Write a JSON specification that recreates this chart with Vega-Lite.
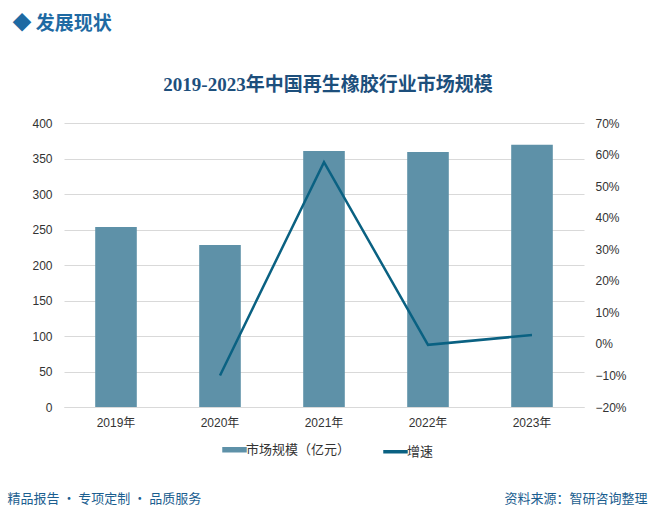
{
  "$schema": "https://vega.github.io/schema/vega-lite/v6.json",
  "width": 520,
  "height": 284,
  "autosize": {"type": "none"},
  "padding": {"left": 64, "top": 123, "right": 76, "bottom": 103},
  "background": "white",
  "title": {
    "text": "2019-2023年中国再生橡胶行业市场规模",
    "anchor": "middle",
    "offset": -81,
    "dx": 4,
    "font": "Liberation Serif, Noto Sans CJK SC",
    "fontSize": 19,
    "fontWeight": "bold",
    "color": "#1d4f7c"
  },
  "data": {
    "values": [
      {"year": "2019年", "size": 253.5, "growth": null},
      {"year": "2020年", "size": 228.2, "growth": -0.100},
      {"year": "2021年", "size": 360.5, "growth": 0.576},
      {"year": "2022年", "size": 359.3, "growth": -0.003},
      {"year": "2023年", "size": 369.4, "growth": 0.028}
    ]
  },
  "layer": [
    {
      "mark": {"type": "bar"},
      "encoding": {
        "x": {
          "field": "year",
          "type": "nominal",
          "sort": null,
          "scale": {"paddingInner": 0.6, "paddingOuter": 0.3},
          "axis": {
            "title": "精品报告 · 专项定制 · 品质服务",
            "titleX": -57,
            "titleY": 95,
            "titleAlign": "left",
            "titleBaseline": "alphabetic",
            "titleFont": "Noto Sans CJK SC",
            "titleFontSize": 13,
            "titleFontWeight": "normal",
            "titleColor": "#1b5e8f",
            "labelAngle": 0,
            "labelFont": "Liberation Sans, Noto Sans CJK SC",
            "labelFontSize": 12,
            "labelColor": "#333333",
            "labelPadding": 10,
            "ticks": false,
            "domainColor": "#d9d9d9",
            "domainWidth": 1
          }
        },
        "y": {
          "field": "size",
          "type": "quantitative",
          "scale": {"domain": [0, 400]},
          "axis": {
            "title": "◆  发展现状",
            "titleAngle": 0,
            "titleX": -52,
            "titleY": -94,
            "titleAlign": "left",
            "titleBaseline": "alphabetic",
            "titleFont": "Noto Sans CJK SC",
            "titleFontSize": 19,
            "titleFontWeight": "bold",
            "titleColor": "#1e6aa3",
            "values": [0, 50, 100, 150, 200, 250, 300, 350, 400],
            "labelPadding": 12,
            "ticks": false,
            "domain": false,
            "gridColor": "#d9d9d9",
            "labelFont": "Liberation Sans",
            "labelFontSize": 12,
            "labelColor": "#333333"
          }
        },
        "color": {
          "datum": "市场规模（亿元）",
          "type": "nominal",
          "scale": {"domain": ["市场规模（亿元）", "增速"], "range": ["#5e91a8", "#0a6182"]},
          "legend": {
            "orient": "none",
            "legendX": 164,
            "legendY": 320,
            "direction": "horizontal",
            "title": null,
            "symbolType": "stroke",
            "symbolSize": 600,
            "symbolStrokeWidth": 5,
            "labelFont": "Noto Sans CJK SC",
            "labelFontSize": 13,
            "labelColor": "#333333",
            "labelOffset": 5,
            "columnPadding": 25,
            "encode": {
              "symbols": {
                "update": {
                  "stroke": {"scale": "color", "field": "value"},
                  "strokeWidth": {"signal": "datum.value === '增速' ? 3.5 : 5.5"}
                }
              }
            }
          }
        }
      }
    },
    {
      "mark": {"type": "line", "strokeWidth": 2.5},
      "encoding": {
        "x": {"field": "year", "type": "nominal", "sort": null},
        "y": {
          "field": "growth",
          "type": "quantitative",
          "scale": {"domain": [-0.2, 0.7]},
          "axis": {
            "orient": "right",
            "format": ".0%",
            "values": [-0.2, -0.1, 0, 0.1, 0.2, 0.3, 0.4, 0.5, 0.6, 0.7],
            "grid": false,
            "ticks": false,
            "domain": false,
            "labelPadding": 11,
            "labelFont": "Liberation Sans",
            "labelFontSize": 12,
            "labelColor": "#333333",
            "title": "资料来源：智研咨询整理",
            "titleAngle": 0,
            "titleX": -80,
            "titleY": 379,
            "titleAlign": "left",
            "titleBaseline": "alphabetic",
            "titleFont": "Noto Sans CJK SC",
            "titleFontSize": 13,
            "titleFontWeight": "normal",
            "titleColor": "#1b5e8f"
          }
        },
        "color": {"datum": "增速", "type": "nominal"}
      }
    }
  ],
  "resolve": {"scale": {"y": "independent"}},
  "config": {"view": {"stroke": null}}
}
